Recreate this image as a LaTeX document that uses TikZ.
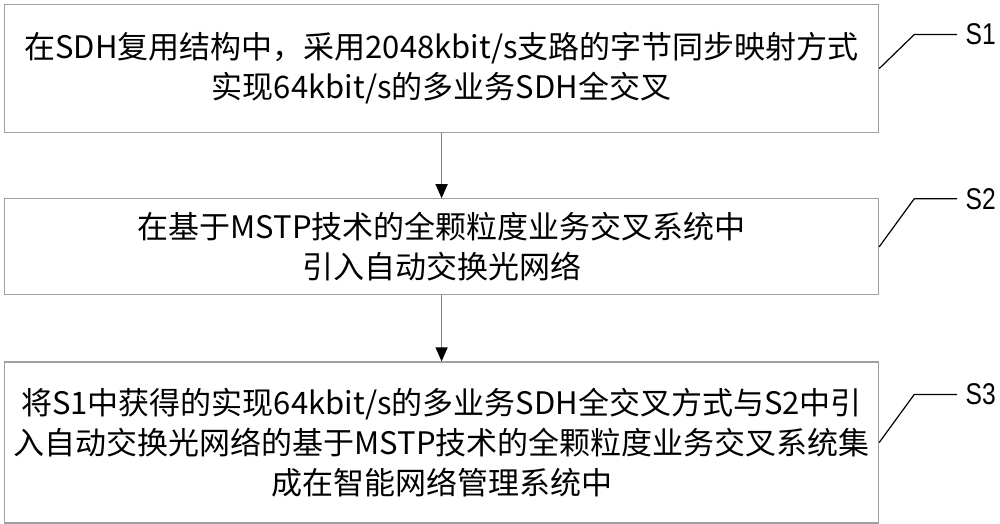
\documentclass[tikz,border=0pt]{standalone}
\usepackage{fontspec}
\newfontfamily\cjk{Noto Sans CJK SC}
\newfontfamily\lbl[FakeStretch=0.82]{Liberation Sans}
\usetikzlibrary{arrows.meta, positioning}

\begin{document}
\begin{tikzpicture}[font=\cjk, >={Triangle[length=7pt,width=6pt,black]}, node distance=32.5pt,
    box/.style={draw=gray!75, line width=0.6pt, minimum width=437pt, inner sep=0pt, align=center,
        font=\cjk\fontsize{15.5}{20}\selectfont},
    tag/.style={anchor=west, inner sep=0pt, font=\lbl\fontsize{15}{18}\selectfont}]
    \useasboundingbox (0,0) rectangle (500pt,-262pt);
    \node[box, minimum height=64pt, anchor=north west] (s1) at (2pt,-2pt)
        {在SDH复用结构中，采用2048kbit/s支路的字节同步映射方式\\实现64kbit/s的多业务SDH全交叉};
    \node[box, minimum height=48pt, below=of s1] (s2)
        {在基于MSTP技术的全颗粒度业务交叉系统中\\引入自动交换光网络};
    \node[box, minimum height=80.5pt, below=33pt of s2] (s3)
        {将S1中获得的实现64kbit/s的多业务SDH全交叉方式与S2中引\\入自动交换光网络的基于MSTP技术的全颗粒度业务交叉系统集\\成在智能网络管理系统中};
    % step labels
    \node[tag] (t1) at ([xshift=43pt, yshift=17pt]s1.east) {S1};
    \node[tag] (t2) at ([xshift=43pt, yshift=24pt]s2.east) {S2};
    \node[tag] (t3) at ([xshift=43pt, yshift=24pt]s3.east) {S3};
    \draw[->, gray, line width=0.6pt] (s1) -- (s2);
    \draw[->, gray, line width=0.6pt] (s2) -- (s3);
    \draw[line width=0.6pt] (s1.east) -- ([xshift=-25.5pt]t1.west) -- ([xshift=-4pt]t1.west);
    \draw[line width=0.6pt] (s2.east) -- ([xshift=-25.5pt]t2.west) -- ([xshift=-4pt]t2.west);
    \draw[line width=0.6pt] (s3.east) -- ([xshift=-25.5pt]t3.west) -- ([xshift=-4pt]t3.west);
\end{tikzpicture}
\end{document}
